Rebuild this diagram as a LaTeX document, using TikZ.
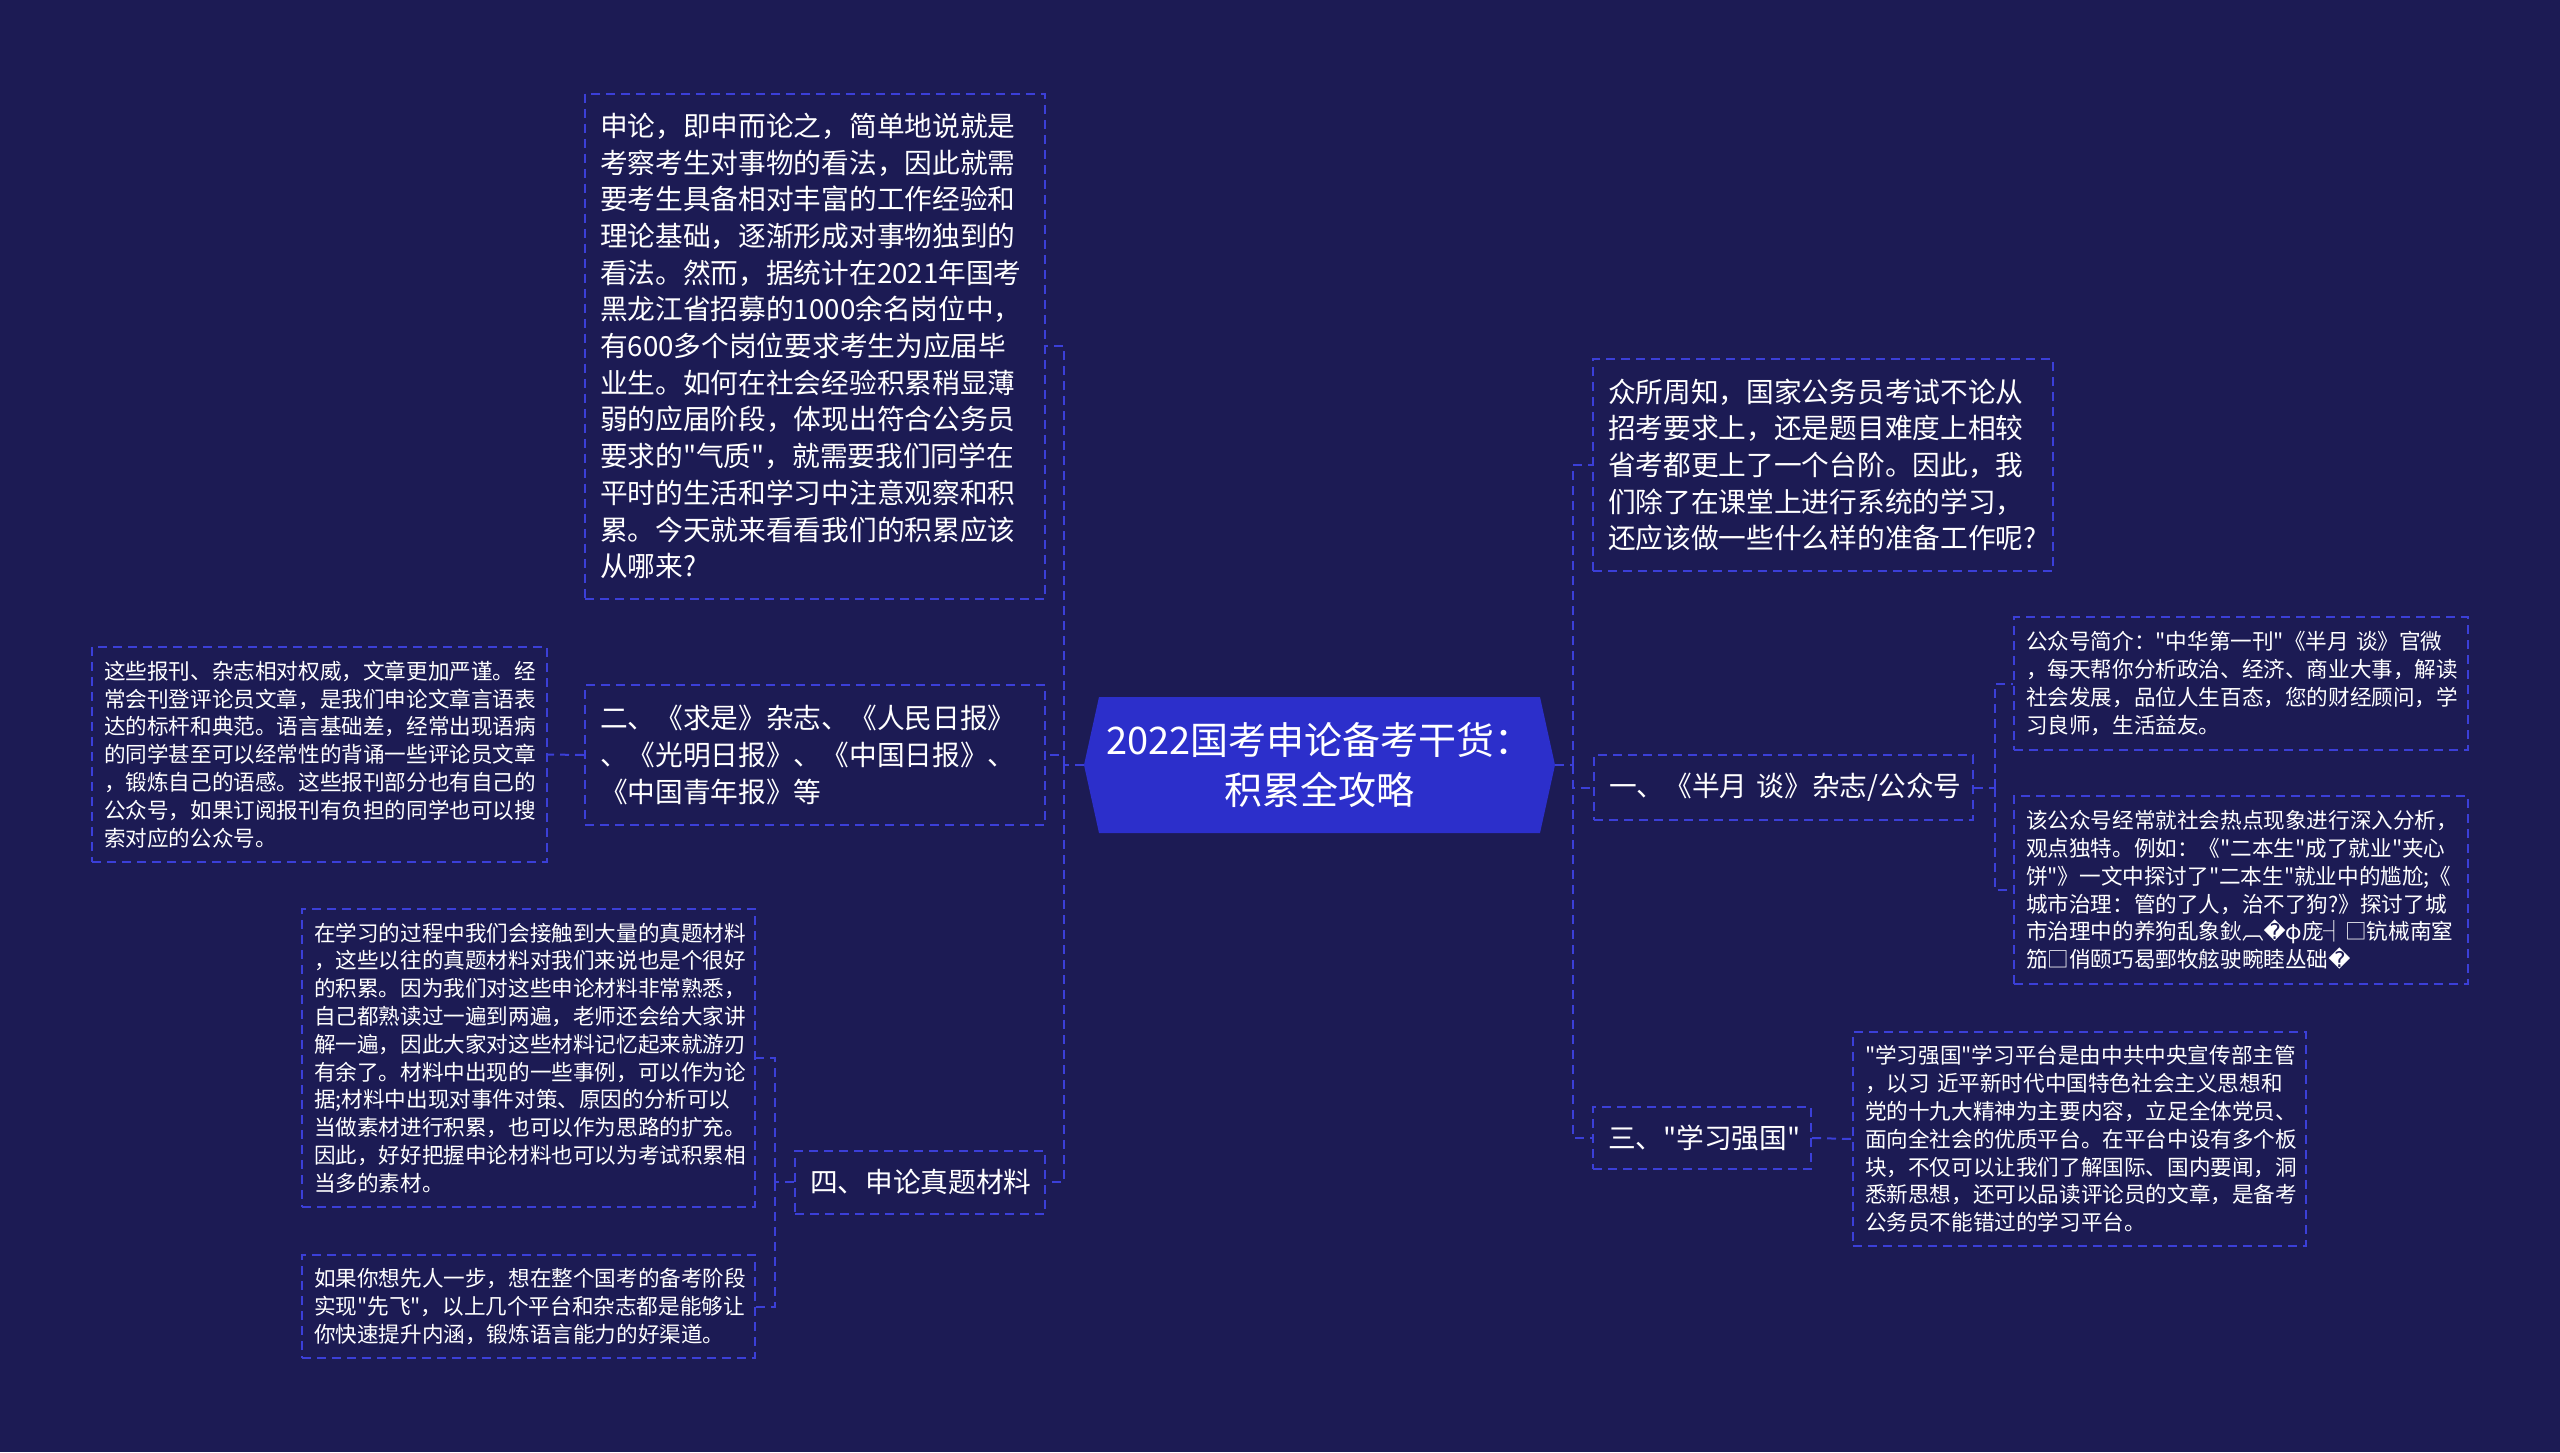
\documentclass[tikz,border=0pt]{standalone}
\usepackage{fontspec}
\newfontfamily\cjk{Noto Sans CJK SC}
\newfontfamily\djv{DejaVu Sans}
\definecolor{bgc}{HTML}{1C1B54}
\definecolor{lnc}{HTML}{3B3FD8}
\definecolor{hexc}{HTML}{2C2FCB}
\tikzset{
  bx/.style={draw=lnc, line width=1pt, dash pattern=on 4.5pt off 3pt, text=white, align=left, inner ysep=0pt},
  big/.style={bx, font=\cjk\fontsize{13.85pt}{18.35pt}\selectfont, inner xsep=7.5pt},
  leaf/.style={bx, font=\cjk\fontsize{10.8pt}{13.9pt}\selectfont, inner xsep=6pt},
  conn/.style={draw=lnc, line width=1pt, dash pattern=on 4.5pt off 3pt},
  titlenode/.style={text=white, align=center, font=\cjk\fontsize{19pt}{25pt}\selectfont, inner sep=0pt, minimum width=235pt, minimum height=68pt},
}
\begin{document}
\begin{tikzpicture}[x=0.5pt,y=-0.5pt]
\useasboundingbox (0,0) rectangle (2560,1452);
\fill[bgc] (0,0) rectangle (2560,1452);

% centre
\fill[hexc] (1084,765) -- (1099,697) -- (1540,697) -- (1555,765) -- (1540,833) -- (1099,833) -- cycle;
\node[titlenode] (center) at (1319.5,765) {2022国考申论备考干货：\\积累全攻略};

% left side
\node[big, minimum width=230pt, minimum height=252.5pt, text width=215pt] (top) at (815,346) {申论，即申而论之，简单地说就是\\
考察考生对事物的看法，因此就需\\
要考生具备相对丰富的工作经验和\\
理论基础，逐渐形成对事物独到的\\
看法。然而，据统计在2021年国考\\
黑龙江省招募的1000余名岗位中，\\
有600多个岗位要求考生为应届毕\\
业生。如何在社会经验积累稍显薄\\
弱的应届阶段，体现出符合公务员\\
要求的"气质"，就需要我们同学在\\
平时的生活和学习中注意观察和积\\
累。今天就来看看我们的积累应该\\
从哪来?};

\node[big, minimum width=230pt, minimum height=70pt, text width=215pt] (two) at (815,755) {二、《求是》杂志、《人民日报》\\
、《光明日报》、《中国日报》、\\
《中国青年报》等};

\node[leaf, minimum width=227.5pt, minimum height=107.5pt, text width=215.5pt] (twoC) at (319.5,754.5) {这些报刊、杂志相对权威，文章更加严谨。经\\
常会刊登评论员文章，是我们申论文章言语表\\
达的标杆和典范。语言基础差，经常出现语病\\
的同学甚至可以经常性的背诵一些评论员文章\\
，锻炼自己的语感。这些报刊部分也有自己的\\
公众号，如果订阅报刊有负担的同学也可以搜\\
索对应的公众号。};

\node[big, minimum width=125pt, minimum height=31.5pt, text width=110pt] (four) at (920,1182) {四、申论真题材料};

\node[leaf, minimum width=226.5pt, minimum height=149pt, text width=214.5pt] (fourA) at (528.5,1058) {在学习的过程中我们会接触到大量的真题材料\\
，这些以往的真题材料对我们来说也是个很好\\
的积累。因为我们对这些申论材料非常熟悉，\\
自己都熟读过一遍到两遍，老师还会给大家讲\\
解一遍，因此大家对这些材料记忆起来就游刃\\
有余了。材料中出现的一些事例，可以作为论\\
据;材料中出现对事件对策、原因的分析可以\\
当做素材进行积累，也可以作为思路的扩充。\\
因此，好好把握申论材料也可以为考试积累相\\
当多的素材。};

\node[leaf, minimum width=226.5pt, minimum height=51.5pt, text width=214.5pt] (fourB) at (528.5,1306.5) {如果你想先人一步，想在整个国考的备考阶段\\
实现"先飞"，以上几个平台和杂志都是能够让\\
你快速提升内涵，锻炼语言能力的好渠道。};

% right side
\node[big, minimum width=230pt, minimum height=106pt, text width=215pt] (intro) at (1823,465) {众所周知，国家公务员考试不论从\\
招考要求上，还是题目难度上相较\\
省考都更上了一个台阶。因此，我\\
们除了在课堂上进行系统的学习，\\
还应该做一些什么样的准备工作呢?};

\node[big, minimum width=189.5pt, minimum height=32.5pt, text width=174.5pt] (one) at (1783.5,787.5) {一、《半月~谈》杂志/公众号};

\node[leaf, minimum width=227pt, minimum height=66.5pt, text width=215pt] (oneA) at (2241,683.5) {公众号简介："中华第一刊"《半月~谈》官微\\
，每天帮你分析政治、经济、商业大事，解读\\
社会发展，品位人生百态，您的财经顾问，学\\
习良师，生活益友。};

\node[leaf, minimum width=227pt, minimum height=94pt, text width=215pt] (oneB) at (2241,890) {该公众号经常就社会热点现象进行深入分析，\\
观点独特。例如：《"二本生"成了就业"夹心\\
饼"》一文中探讨了"二本生"就业中的尴尬;《\\
城市治理：管的了人，治不了狗?》探讨了城\\
市治理中的养狗乱象鈥︹{\djv �}φ庞┤□钪械南窒\\
笳□俏颐巧曷鄄牧舷驶畹睦丛础{\djv �}};

\node[big, minimum width=109pt, minimum height=31pt, text width=94pt] (three) at (1702,1138) {三、"学习强国"};

\node[leaf, minimum width=226.5pt, minimum height=107pt, text width=214.5pt] (threeC) at (2079.5,1139) {"学习强国"学习平台是由中共中央宣传部主管\\
，以习~近平新时代中国特色社会主义思想和\\
党的十九大精神为主要内容，立足全体党员、\\
面向全社会的优质平台。在平台中设有多个板\\
块，不仅可以让我们了解国际、国内要闻，洞\\
悉新思想，还可以品读评论员的文章，是备考\\
公务员不能错过的学习平台。};

% connectors
\coordinate (sl) at (1064,765);
\coordinate (sr) at (1573,765);
\coordinate (s1) at (1995,787.5);
\coordinate (s4) at (775,1182);
\draw[conn] (center.west) -- (sl);
\draw[conn] (sl) |- (top.east);
\draw[conn] (sl) |- (two.east);
\draw[conn] (sl) |- (four.east);
\draw[conn] (center.east) -- (sr);
\draw[conn] (sr) |- (intro.west);
\draw[conn] (sr) |- (one.west);
\draw[conn] (sr) |- (three.west);
\draw[conn] (two.west) -- (twoC.east);
\draw[conn] (four.west) -- (s4);
\draw[conn] (s4) |- (fourA.east);
\draw[conn] (s4) |- (fourB.east);
\draw[conn] (one.east) -- (s1);
\draw[conn] (s1) |- (oneA.west);
\draw[conn] (s1) |- (oneB.west);
\draw[conn] (three.east) -- (threeC.west);
\end{tikzpicture}
\end{document}
